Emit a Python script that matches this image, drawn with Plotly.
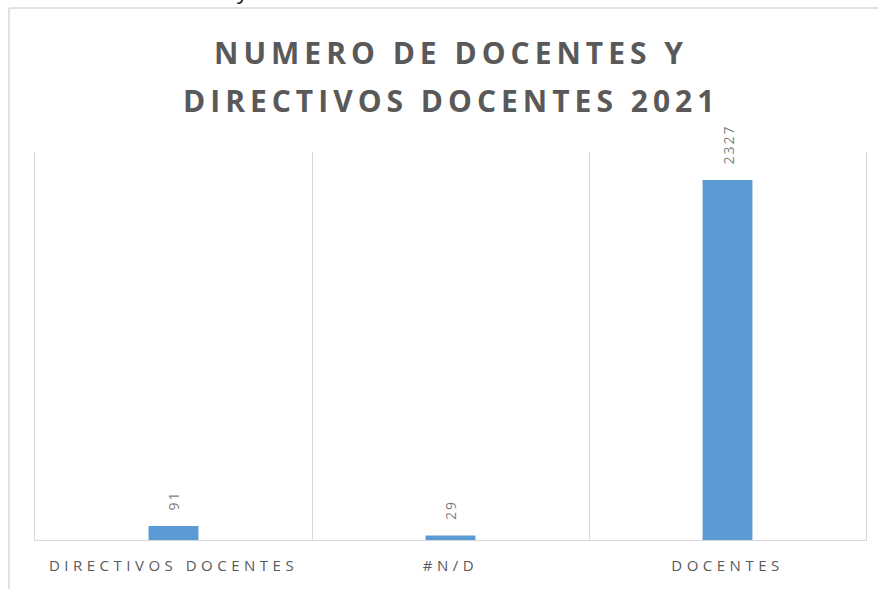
import plotly.graph_objects as go

categories = ["DIRECTIVOS DOCENTES", "#N/D", "DOCENTES"]
values = [91, 29, 2327]
title_lines = ["NUMERO DE DOCENTES Y", "DIRECTIVOS DOCENTES 2021"]

BAR = "#5B9BD5"
GRID = "#d9d9d9"
TXT = "#595959"

fig = go.Figure()
fig.add_trace(go.Bar(
    x=categories, y=values, marker_color=BAR, marker_line_width=0,
    width=0.18, hoverinfo="x+y",
))

# data labels
for c, v in zip(categories, values):
    fig.add_annotation(
        x=c, y=v, xref="x", yref="y", showarrow=False,
        text='<span style="letter-spacing:2px">%d</span>' % v,
        textangle=-90, yanchor="bottom", xanchor="center", yshift=13,
        font=dict(family="Open Sans", size=14, color="#7f7f7f"),
    )

# title (two lines)
for i, (line, ypx) in enumerate(zip(title_lines, [52, 100])):
    fig.add_annotation(
        x=0.5, xref="paper", y=(540 - ypx) / 388, yref="paper",
        showarrow=False, xanchor="center", yanchor="middle",
        text='<span style="letter-spacing:5px"><b>%s</b></span>' % line,
        font=dict(family="Open Sans", size=30, color=TXT),
    )

# stray fragment at top edge
fig.add_annotation(
    x=(243 - 35) / 831, xref="paper", y=(540 - 7) / 388, yref="paper",
    showarrow=False, xanchor="center", yanchor="bottom", text="y",
    font=dict(family="Open Sans", size=22, color="#111111"),
)

# page frame lines
fig.add_shape(type="line", xref="paper", yref="paper",
              x0=(9 - 35) / 831, x1=1.02, y0=(540 - 8) / 388, y1=(540 - 8) / 388,
              line=dict(color=GRID, width=1.5))
fig.add_shape(type="line", xref="paper", yref="paper",
              x0=(9 - 35) / 831, x1=(9 - 35) / 831, y0=(540 - 8) / 388, y1=-0.2,
              line=dict(color=GRID, width=1.5))

fig.update_layout(
    width=878, height=589,
    margin=dict(l=35, r=12, t=152, b=49),
    paper_bgcolor="white", plot_bgcolor="white",
    showlegend=False,
)
fig.update_xaxes(
    type="category", tickson="boundaries", showgrid=True, gridcolor=GRID, gridwidth=1,
    showline=True, linecolor=GRID, linewidth=1, ticks="",
    tickvals=categories,
    ticktext=['<span style="letter-spacing:4.5px">%s</span>' % c for c in categories],
    tickfont=dict(family="Open Sans", size=15, color=TXT),
    ticklabelstandoff=12, zeroline=False,
)
fig.update_yaxes(
    range=[0, 2508], showgrid=False, showticklabels=False, zeroline=False,
    showline=True, mirror=True, linecolor=GRID, linewidth=1, ticks="",
)

fig.write_html("out.html", config={"displayModeBar": False},
               post_script="document.body.style.margin='0';")
